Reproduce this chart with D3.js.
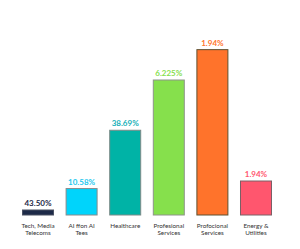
<!DOCTYPE html>
<html><head><meta charset="utf-8">
<script src="https://cdn.jsdelivr.net/npm/d3@7"></script>
<style>html,body{margin:0;padding:0;background:#fff;}svg{display:block;}</style>
</head><body>
<svg id="c" width="300" height="249"></svg>
<script>
const categories = [["Tech, Media","Telecoms"],["AI ffon AI","Tees"],["Healthcare"],["Profesional","Services"],["Profocional","Services"],["Energy &","Utilities"]];
const values = [3.5, 16, 50, 79.3, 97, 20.4];
const valueLabels = ["43.50%","10.58%","38.69%","6.225%","1.94%","1.94%"];
const colors = ["#1d2a48","#00d4fb","#00b3a6","#86e04c","#ff732b","#ff566e"];
const labelColors = ["#1d2a48","#1ec8ee","#15b0b8","#86e04c","#ff732b","#ff566e"];
const strokes = ["#4a5163","#8a8a8a","#7d8a88","#8e9489","#5e5030","#7a6066"];

const svg = d3.select("#c");
const x = d3.scaleBand().domain(d3.range(categories.length)).range([22,272]).paddingInner(0.266).paddingOuter(0);
const y = d3.scaleLinear().domain([0,100]).range([215.5,44]);

const g = svg.append("g");
g.selectAll("rect.bar").data(values).join("rect").attr("class","bar")
  .attr("x",(d,i)=>x(i)+0.5).attr("y",d=>y(d)+0.5)
  .attr("width",x.bandwidth()-1).attr("height",d=>y(0)-y(d)-1)
  .attr("fill",(d,i)=>colors[i]).attr("stroke",(d,i)=>strokes[i]).attr("stroke-width",1);

g.selectAll("text.val").data(values).join("text").attr("class","val")
  .attr("x",(d,i)=>x(i)+x.bandwidth()/2).attr("y",d=>y(d)-3.5)
  .attr("text-anchor","middle").attr("font-family","Lato, sans-serif").attr("font-weight","bold")
  .attr("font-size","8px").attr("fill",(d,i)=>labelColors[i]).text((d,i)=>valueLabels[i]);

const cg = g.selectAll("text.cat").data(categories).join("text").attr("class","cat")
  .attr("x",(d,i)=>x(i)+x.bandwidth()/2).attr("y",227.8)
  .attr("text-anchor","middle").attr("font-family","Lato, sans-serif")
  .attr("font-size","6.3px").attr("fill","#333");
cg.selectAll("tspan").data(d=>d).join("tspan")
  .attr("x",function(){return this.parentNode.getAttribute("x");})
  .attr("dy",(d,j)=>j===0?0:7).text(d=>d);
</script>
</body></html>
